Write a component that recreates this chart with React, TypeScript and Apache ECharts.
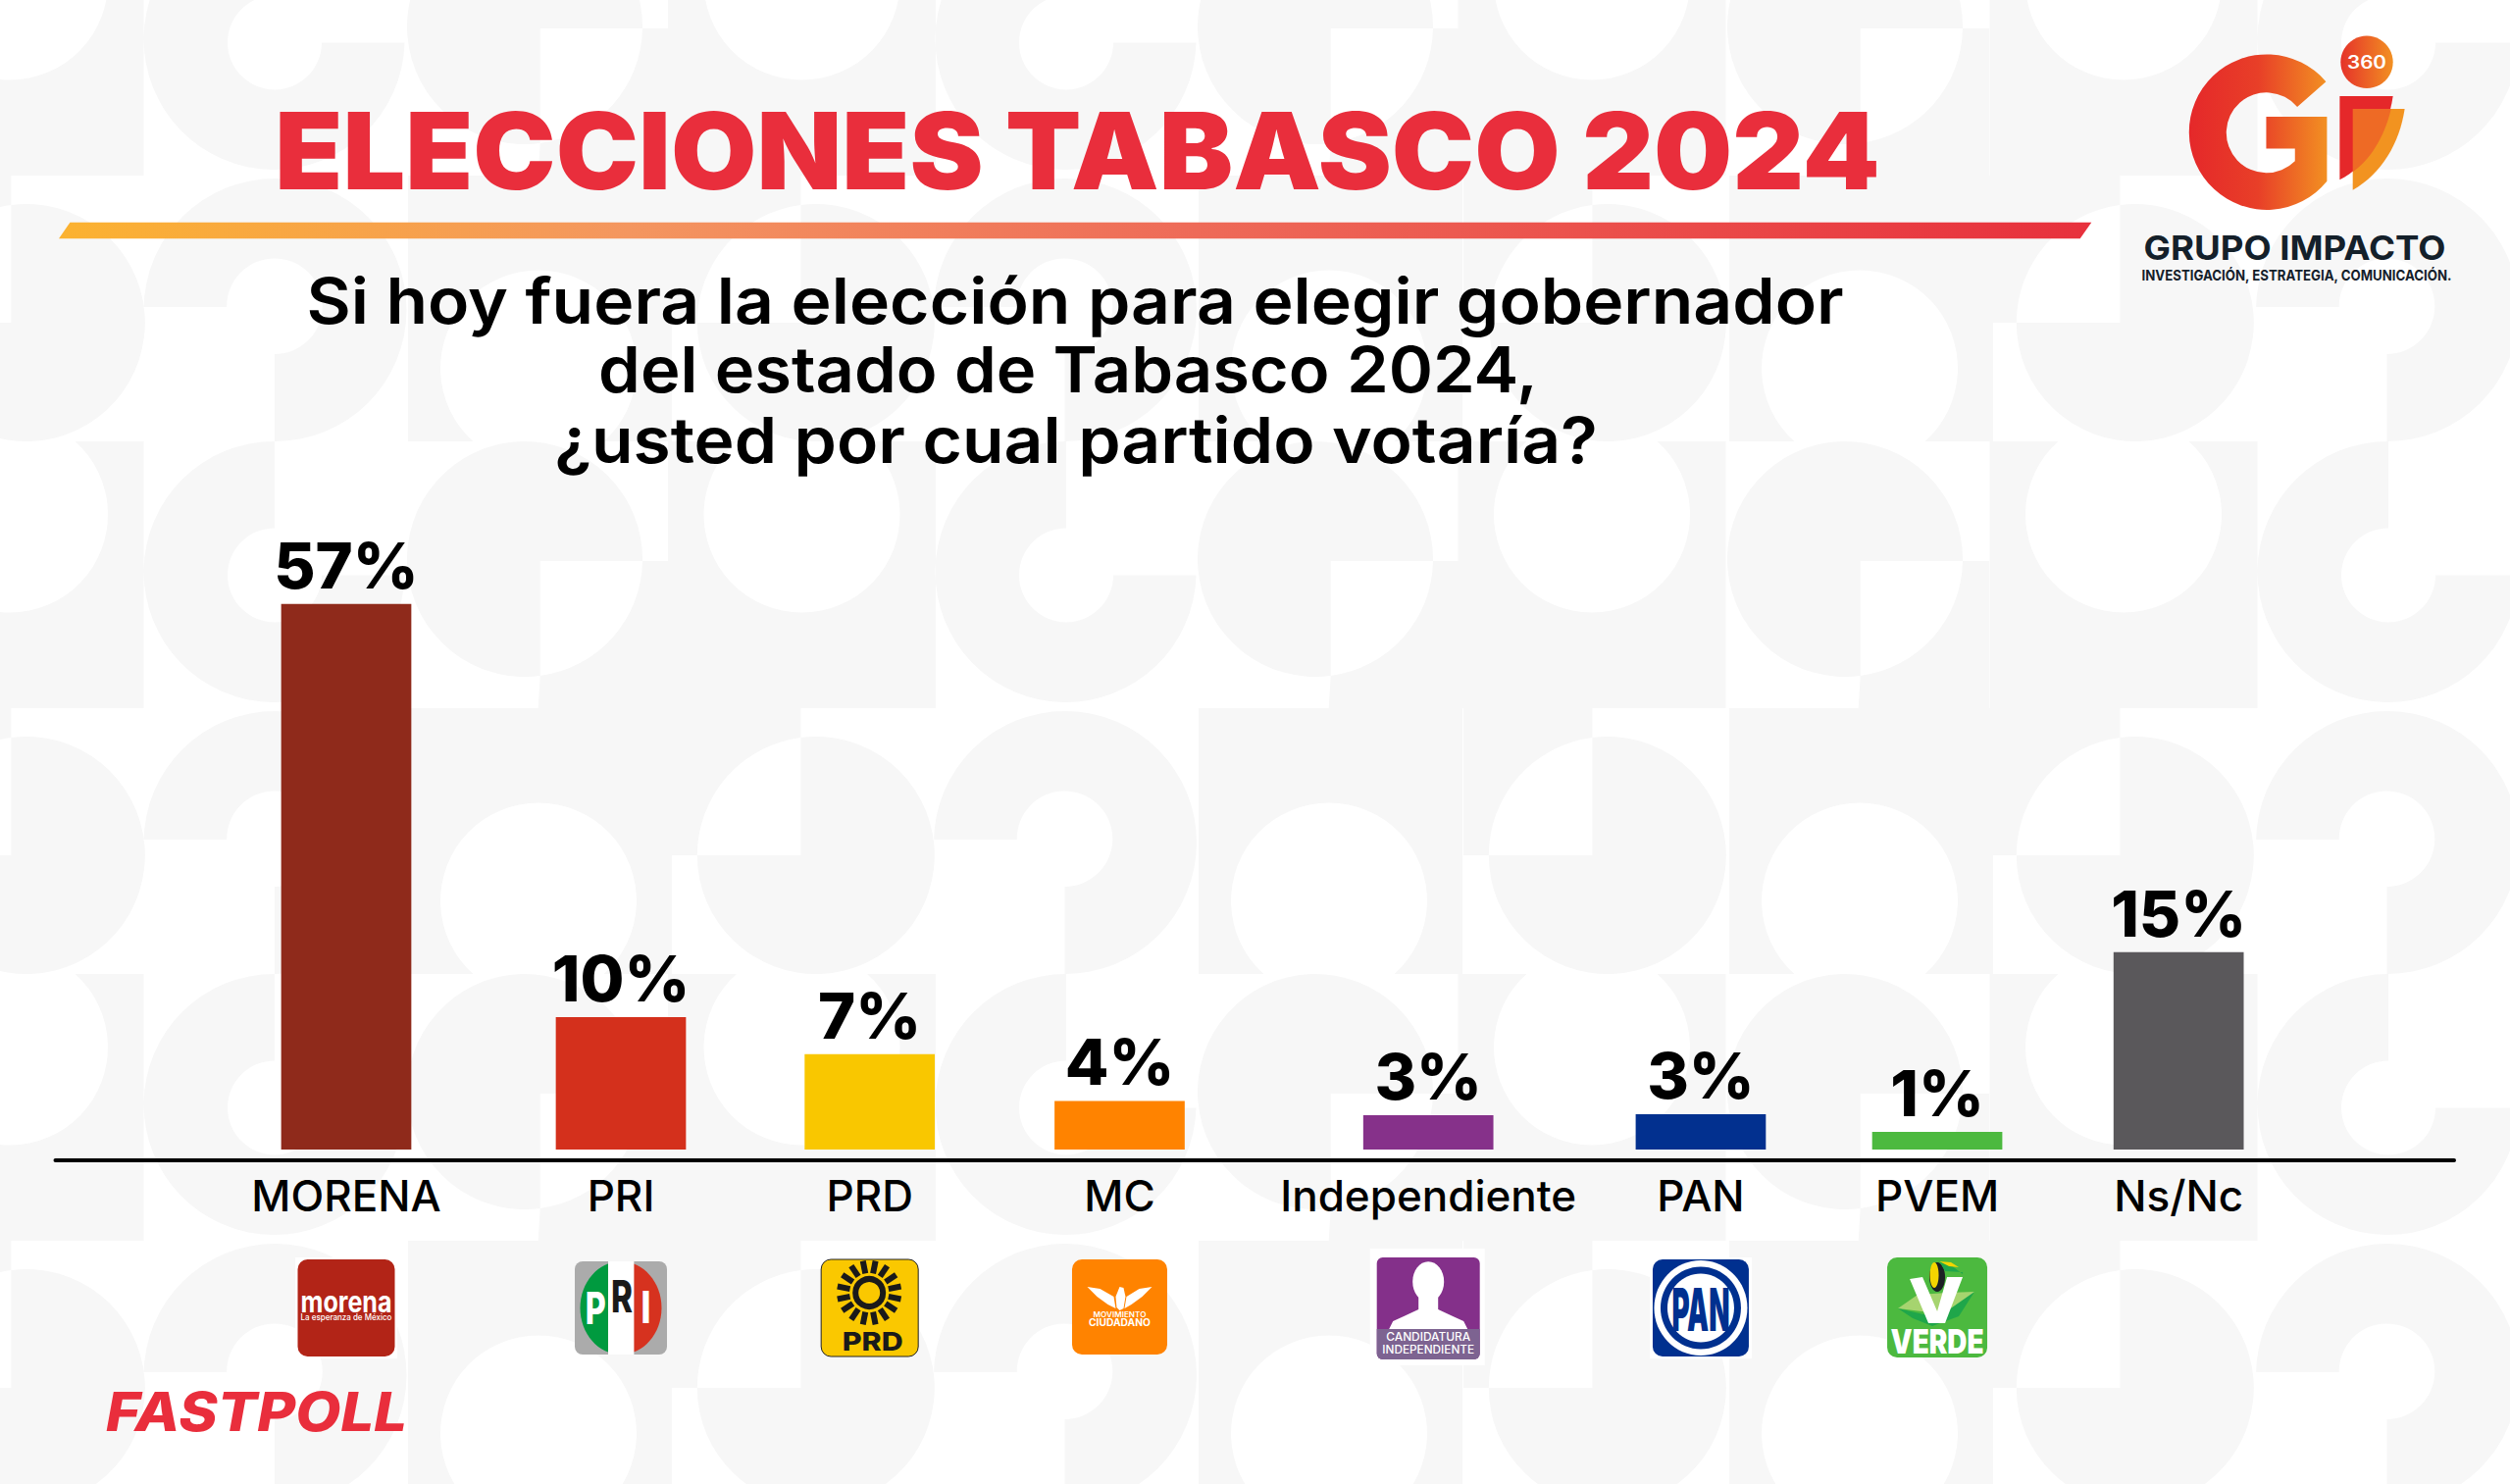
import React, { useEffect, useRef } from "react";
import * as echarts from "echarts";

// ---- data ----
const categories = ["MORENA", "PRI", "PRD", "MC", "Independiente", "PAN", "PVEM", "Ns/Nc"];
const percentLabels = ["57%", "10%", "7%", "4%", "3%", "3%", "1%", "15%"];
// The bars in the reference are not proportional to their printed percentages
// (the 57% bar is only about 4x the 10% bar), so the lengths as drawn are kept apart from the labels.
const drawnBarLengths = [41.2, 10, 7.2, 3.67, 2.6, 2.67, 1.33, 14.9];
// Columns are unevenly spaced in the reference: position along the x axis, in column widths.
const columnPositions = [0, 1, 1.906, 2.816, 3.94, 4.932, 5.793, 6.672];
const barColors = ["#8F2A1B", "#D4301C", "#F9C700", "#FF8300", "#86318A", "#02308F", "#4CB93F", "#5A585B"];

const oddRowMotifs: [string, number][] = [["W", -126.5], ["G", 147], ["D", 416], ["W", 681], ["G", 954], ["D", 1222], ["W", 1486.5], ["D", 1762], ["W", 2028.5], ["G", 2302]];
const evenRowMotifs: [string, number][] = [["H", -120], ["Q", 146.5], ["V", 416], ["H", 685], ["Q", 952], ["V", 1222], ["H", 1492], ["V", 1763], ["H", 2030], ["Q", 2300]];
const oddRowTops = [-93, 450, 993];
const evenRowTops = [179, 722, 1265];

// ---- background pattern path ----
const motifPath = (kind: string, L: number, T: number): string => {
  const p = (x: number, y: number) => `${(L + x).toFixed(1)} ${(T + y).toFixed(1)}`;
  switch (kind) {
    case "W":
      return `M${p(0, 0)}L${p(69.9, 0)}A100 100 0 1 0 ${p(203.1, 0)}L${p(273, 0)}L${p(273, 272)}L${p(0, 272)}Z`;
    case "V":
      return `M${p(0, 0)}L${p(269, 0)}L${p(269, 271)}L${p(199.6, 271)}A100 100 0 1 0 ${p(66.4, 271)}L${p(0, 271)}Z`;
    case "G":
      return `M${p(133, 0)}A133 133 0 1 0 ${p(265.5, 136.4)}L${p(181, 136.4)}A48 48 0 1 1 ${p(133, 88.4)}Z`;
    case "Q":
      return `M${p(0, 136)}A134 134 0 1 1 ${p(133.5, 271)}L${p(133.5, 182)}A48.8 48.8 0 1 0 ${p(84.7, 134)}L${p(0, 134)}Z`;
    case "D":
      return (
        `M${p(134.7, 122)}L${p(239, 122)}A120 120 0 1 0 ${p(134.7, 239)}Z` +
        `M${p(134.7, 239)}A120 120 0 0 0 ${p(239, 122)}L${p(266, 122)}L${p(266, 272)}L${p(132.7, 272)}Z`
      );
    case "H":
      return (
        `M${p(131.4, 30)}A121 121 0 1 1 ${p(25.8, 150)}L${p(131.4, 150)}Z` +
        `M${p(0, 0)}L${p(131.4, 0)}L${p(131.4, 30)}A121 121 0 0 0 ${p(25.8, 150)}L${p(0, 150)}Z`
      );
  }
  return "";
};
let patternD = "";
oddRowTops.forEach((t) => oddRowMotifs.forEach(([k, l]) => (patternD += motifPath(k, l, t))));
evenRowTops.forEach((t) => evenRowMotifs.forEach(([k, l]) => (patternD += motifPath(k, l, t))));

echarts.graphic.registerShape("bgPattern", echarts.graphic.extendPath(patternD, {}) as any);
echarts.graphic.registerShape(
  "gLetter",
  echarts.graphic.extendPath("M815 250A238 238 0 1 0 818 555L818 357L632 357L632 455L720 455L720 493A123 123 0 1 1 727 327Z", {}) as any
);
echarts.graphic.registerShape("iRed", echarts.graphic.extendPath("M857 294L1020 294C1005 400 940 510 857 550Z", {}) as any);
echarts.graphic.registerShape("iOrange", echarts.graphic.extendPath("M897 333L1056 333C1040 440 985 530 897 582Z", {}) as any);
echarts.graphic.registerShape("iOverlap", echarts.graphic.extendPath("M897 333L1014 333C995 420 945 495 897 525Z", {}) as any);

const FONT = "Inter";
const ctx = document.createElement("canvas").getContext("2d") as CanvasRenderingContext2D;

// Text centred on (x, y); when a width is given it is stretched horizontally to that width.
const txt = (
  text: string,
  x: number,
  y: number,
  size: number,
  weight: number,
  fill: string,
  width?: number,
  fontStyle = "normal",
  family = FONT
) => {
  ctx.font = `${fontStyle} ${weight} ${size}px ${family}`;
  const measured = ctx.measureText(text).width;
  return {
    type: "text",
    x,
    y,
    scaleX: width ? width / measured : 1,
    style: { text, x: 0, y: 0, align: "center", verticalAlign: "middle", fill, fontFamily: family, fontSize: size, fontWeight: weight, fontStyle },
  };
};
const rect = (x: number, y: number, width: number, height: number, fill: any, r: any = 0, extra: any = {}) => ({
  type: "rect",
  shape: { x, y, width, height, r },
  style: { fill, ...extra },
});
const ell = (cx: number, cy: number, rx: number, ry: number, fill: any) => ({ type: "ellipse", shape: { cx, cy, rx, ry }, style: { fill } });
const poly = (points: number[][], fill: any) => ({ type: "polygon", shape: { points }, style: { fill } });
const grad = (stops: [number, string][]) =>
  new echarts.graphic.LinearGradient(0, 0, 1, 0, stops.map(([offset, color]) => ({ offset, color })));

const morenaLogo = (): any[] => [
  rect(-52, 1282, 104, 103, "#ffffff"),
  rect(-49.5, 1284, 99, 99, "#B22417", 10),
  txt("morena", 0, 1327, 30, 700, "#ffffff", 93),
  txt("La esperanza de México", 0, 1343, 9, 500, "#ffffff", 93),
];
const priLogo = (): any[] => [
  rect(-47, 1286, 94, 95, "#ABABAB", 8),
  ell(0, 1333.5, 41.5, 47.5, grad([[0, "#009A3F"], [0.5, "#009A3F"], [0.5, "#D6321F"], [1, "#D6321F"]])),
  rect(-13, 1286, 26.4, 95, "#ffffff"),
  txt("P", -25.8, 1333, 45, 800, "#ffffff", 21),
  txt("R", 1, 1322, 45, 800, "#1a1a1a", 22),
  txt("I", 25.5, 1333, 45, 800, "#ffffff", 10),
];
const prdLogo = (): any[] => {
  const rays: any[] = [];
  for (let i = 0; i < 16; i++) {
    const a = (i * Math.PI) / 8 + Math.PI / 16;
    rays.push({
      type: "line",
      shape: { x1: -0.5 + 20 * Math.cos(a), y1: 1318 + 20 * Math.sin(a), x2: -0.5 + 33 * Math.cos(a), y2: 1318 + 33 * Math.sin(a) },
      style: { stroke: "#1a1a1a", lineWidth: 6 },
    });
  }
  return [
    rect(-49.5, 1284, 99, 99, "#FAC800", 10, { stroke: "#222222", lineWidth: 1 }),
    ...rays,
    { type: "circle", shape: { cx: -0.5, cy: 1318, r: 14 }, style: { fill: "#FAC800", stroke: "#1a1a1a", lineWidth: 6 } },
    txt("PRD", 3, 1368, 26, 800, "#1a1a1a", 62),
  ];
};
const mcLogo = (): any[] => [
  rect(-48.5, 1284, 97, 97, "#FF8300", 10),
  poly([[-33, 1312], [-20, 1314], [-6, 1322], [-4, 1334], [-12, 1330], [-23, 1322]], "#ffffff"),
  poly([[33, 1312], [20, 1314], [7, 1322], [5, 1334], [12, 1330], [23, 1322]], "#ffffff"),
  poly([[-4, 1322], [0, 1312], [4, 1313], [6, 1322], [4, 1334], [0, 1336], [-3, 1333]], "#ffffff"),
  txt("MOVIMIENTO", 0, 1340, 7.5, 600, "#ffffff", 54),
  txt("CIUDADANO", 0, 1348.5, 10, 700, "#ffffff", 63),
];
const indLogo = (): any[] => [
  rect(-59.5, 1273, 117, 119, "#ffffff"),
  rect(-52.5, 1282, 105, 104, "#84308A", 6),
  rect(-52.5, 1355, 105, 31, "#7D6391", [0, 0, 6, 6]),
  ell(0, 1306.7, 16, 20.5, "#ffffff"),
  rect(-10, 1320, 20, 26, "#ffffff"),
  poly([[-40, 1355], [-36, 1347], [-25, 1342], [-10, 1335], [10, 1335], [25, 1342], [36, 1347], [40, 1355]], "#ffffff"),
  txt("CANDIDATURA", 0, 1363.3, 11.5, 500, "#ffffff", 86),
  txt("INDEPENDIENTE", 0, 1375.7, 11.5, 500, "#ffffff", 94),
];
const panLogo = (): any[] => [
  rect(-52, 1282, 104, 103, "#ffffff"),
  rect(-49, 1284, 98, 99, "#00308F", 10),
  ell(0, 1333.5, 47.5, 48.5, "#ffffff"),
  ell(0, 1333.5, 41, 42, "#00308F"),
  ell(0, 1333.5, 34, 35, "#ffffff"),
  txt("PAN", 0, 1335, 60, 900, "#00308F", 59),
];
const verdeLogo = (): any[] => [
  rect(-51, 1282, 102, 102, "#4CB93F", 10),
  poly([[-40, 1334], [-20, 1320], [10, 1318], [38, 1317], [22, 1333], [0, 1339]], "#A6D46F"),
  poly([[-40, 1334], [-14, 1340], [8, 1338], [38, 1317], [22, 1342], [-5, 1352], [-25, 1344]], "#1FA64A"),
  ell(0, 1302, 8, 15, "#1C2024"),
  ell(-3, 1300, 4.5, 13, "#F4D500"),
  poly([[2, 1286], [14, 1290], [26, 1299], [26, 1297], [8, 1296]], "#1FA64A"),
  poly([[2, 1286], [14, 1287], [22, 1292], [12, 1291]], "#F4D500"),
  poly([[-28, 1304], [-15, 1302], [0, 1337], [10, 1302], [26, 1302], [8, 1349], [-9, 1349]], "#ffffff"),
  txt("VERDE", 0, 1367.5, 34, 900, "#ffffff", 95),
];

// Logo drawing functions in category order; Ns/Nc has no logo.
const logos: ((() => any[]) | null)[] = [morenaLogo, priLogo, prdLogo, mcLogo, indLogo, panLogo, verdeLogo, null];

const ORIGIN = 353; // centre of the first column
const UNIT = 280; // column width unit

const App = () => {
  const ref = useRef<HTMLDivElement>(null);
  useEffect(() => {
    document.body.style.margin = "0";
    const chart = echarts.init(ref.current as HTMLDivElement, undefined, { renderer: "svg" });
    const elements: any[] = [
      { type: "bgPattern", x: 0, y: 0, z: -10, silent: true, style: { fill: "#F7F7F7" } },
      txt("ELECCIONES TABASCO 2024", 1098.5, 153.5, 108, 900, "#E92E3C", 1636),
      {
        type: "polygon",
        shape: { points: [[60, 243.3], [71.4, 226.7], [2132.3, 226.7], [2120.7, 243.3]] },
        style: { fill: grad([[0, "#FBB230"], [0.28, "#F4965F"], [0.56, "#EE6A58"], [1, "#E7303C"]]) },
      },
      txt("Si hoy fuera la elección para elegir gobernador", 1096, 306.5, 65, 600, "#000000", 1568),
      txt("del estado de Tabasco 2024,", 1089, 376.5, 65, 600, "#000000", 958),
      txt("¿usted por cual partido votaría?", 1097, 448.5, 65, 600, "#000000", 1064),
      txt("FASTPOLL", 261.5, 1439, 55, 800, "#E92E3C", 307, "italic"),
      { type: "gLetter", x: 2100, y: 0, scaleX: 1 / 3, scaleY: 1 / 3, style: { fill: grad([[0, "#E5282A"], [0.5, "#E83F28"], [1, "#F29022"]]) } },
      { type: "iOrange", x: 2100, y: 0, scaleX: 1 / 3, scaleY: 1 / 3, style: { fill: "#F29320" } },
      { type: "iRed", x: 2100, y: 0, scaleX: 1 / 3, scaleY: 1 / 3, style: { fill: "#E5282A" } },
      { type: "iOverlap", x: 2100, y: 0, scaleX: 1 / 3, scaleY: 1 / 3, style: { fill: "#EE6A25" } },
      { type: "circle", shape: { cx: 2413, cy: 63.3, r: 26.7 }, style: { fill: grad([[0, "#E5322A"], [1, "#F29022"]]) } },
      txt("360", 2413, 63.3, 18.5, 600, "#ffffff", 40),
      txt("GRUPO IMPACTO", 2339.5, 252.5, 34, 700, "#14202A", 308),
      txt("INVESTIGACIÓN, ESTRATEGIA, COMUNICACIÓN.", 2341.5, 281, 14.5, 700, "#14202A", 317),
    ];
    columnPositions.forEach((slot, i) => {
      const logo = logos[i];
      if (logo) elements.push({ type: "group", x: ORIGIN + UNIT * slot, y: 0, children: logo() });
    });

    const left = 56.5;
    const right = 2502;
    chart.setOption({
      animation: false,
      backgroundColor: "#ffffff",
      grid: { left, right: 2559 - right, top: 564.5, height: 607.5, containLabel: false },
      xAxis: {
        type: "value",
        min: (left - ORIGIN) / UNIT,
        max: (right - ORIGIN) / UNIT,
        offset: 11,
        splitLine: { show: false },
        axisTick: { show: false },
        axisLine: { show: true, onZero: false, lineStyle: { color: "#000000", width: 4 } },
        axisLabel: {
          customValues: columnPositions,
          formatter: (v: number) => categories[columnPositions.indexOf(v)] ?? "",
          color: "#000000",
          fontFamily: FONT,
          fontSize: 44,
          fontWeight: 500,
          margin: 14,
        },
      },
      yAxis: { type: "value", min: 0, max: 45, show: false },
      series: [
        {
          type: "bar",
          barWidth: 132.7,
          data: drawnBarLengths.map((v, i) => ({
            value: [columnPositions[i], v],
            itemStyle: { color: barColors[i] },
          })),
          label: {
            show: true,
            position: "top",
            distance: 7,
            formatter: (p: any) => percentLabels[p.dataIndex],
            color: "#000000",
            fontFamily: FONT,
            fontSize: 65,
            fontWeight: 800,
          },
        },
      ],
      graphic: { elements },
    });
    return () => chart.dispose();
  }, []);
  return <div ref={ref} style={{ position: "absolute", left: 0, top: 0, width: 2559, height: 1513 }} />;
};

export default App;
